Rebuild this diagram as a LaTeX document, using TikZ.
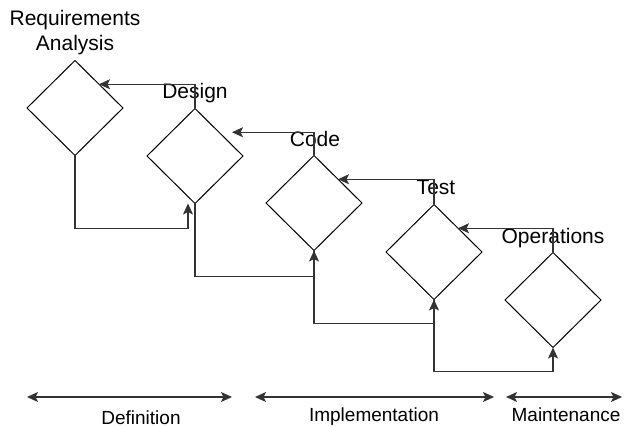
\documentclass[tikz,border=0pt]{standalone}
\usepackage{fontspec}
\setmainfont{Liberation Sans}
\usetikzlibrary{shapes.geometric,arrows.meta}
\begin{document}
\begin{tikzpicture}[x=1pt,y=-1pt,
  phase/.style={draw, line width=1pt, shape=diamond, minimum width=96pt, minimum height=95pt, inner sep=0pt, outer sep=0pt},
  lbl/.style={font=\fontsize{21}{25}\selectfont, anchor=base, inner sep=0pt, align=center},
  blbl/.style={font=\fontsize{19}{22}\selectfont, anchor=base, inner sep=0pt},
  conn/.style={draw=black!80, line width=1.3pt, -{Stealth[length=11pt,width=10pt,inset=2.5pt]}},
  span/.style={draw=black!80, line width=1.3pt, {Stealth[length=11pt,width=10pt,inset=2.5pt]}-{Stealth[length=11pt,width=10pt,inset=2.5pt]}}
]
\useasboundingbox (0,0) rectangle (626,427);

% phases
\node[phase] (req) at (75,108) {};
\node[phase] (des) at (195,156) {};
\node[phase] (cod) at (314,203) {};
\node[phase] (tst) at (434,252) {};
\node[phase] (ops) at (553,300) {};

% labels
\node[lbl] (lreq) at (75,51) {Requirements\\Analysis};
\node[lbl] (ldes) at (195,99) {Design};
\node[lbl] (lcod) at (315,147) {Code};
\node[lbl] (ltst) at (436,195) {Test};
\node[lbl] (lops) at (553,244) {Operations};

% backward (feedback) arrows
\draw[conn] (des.north) |- (req.north east);
\draw[conn] (cod.north) |- ([xshift=13pt]des.north east);
\draw[conn] (tst.north) |- (cod.north east);
\draw[conn] (ops.north) |- (tst.north east);

% forward arrows
\draw[conn] (req.south) -- ++(0,73) -| ([xshift=-7pt]des.south);
\draw[conn] (des.south) -- ++(0,73) -| (cod.south);
\draw[conn] (cod.south) -- ++(0,73) -| (tst.south);
\draw[conn] (tst.south) -- ++(0,72) -| (ops.south);

% bottom spans
\coordinate (d1) at (27,397);
\coordinate (d2) at (232,397);
\coordinate (i1) at (255,397);
\coordinate (i2) at (494,397);
\coordinate (m1) at (506,397);
\coordinate (m2) at (622,397);
\draw[span] (d1) -- (d2);
\draw[span] (i1) -- (i2);
\draw[span] (m1) -- (m2);

\node[blbl] (ldef) at (141,424) {Definition};
\node[blbl] (limp) at (374,421) {Implementation};
\node[blbl] (lmnt) at (566,421) {Maintenance};
\end{tikzpicture}
\end{document}
